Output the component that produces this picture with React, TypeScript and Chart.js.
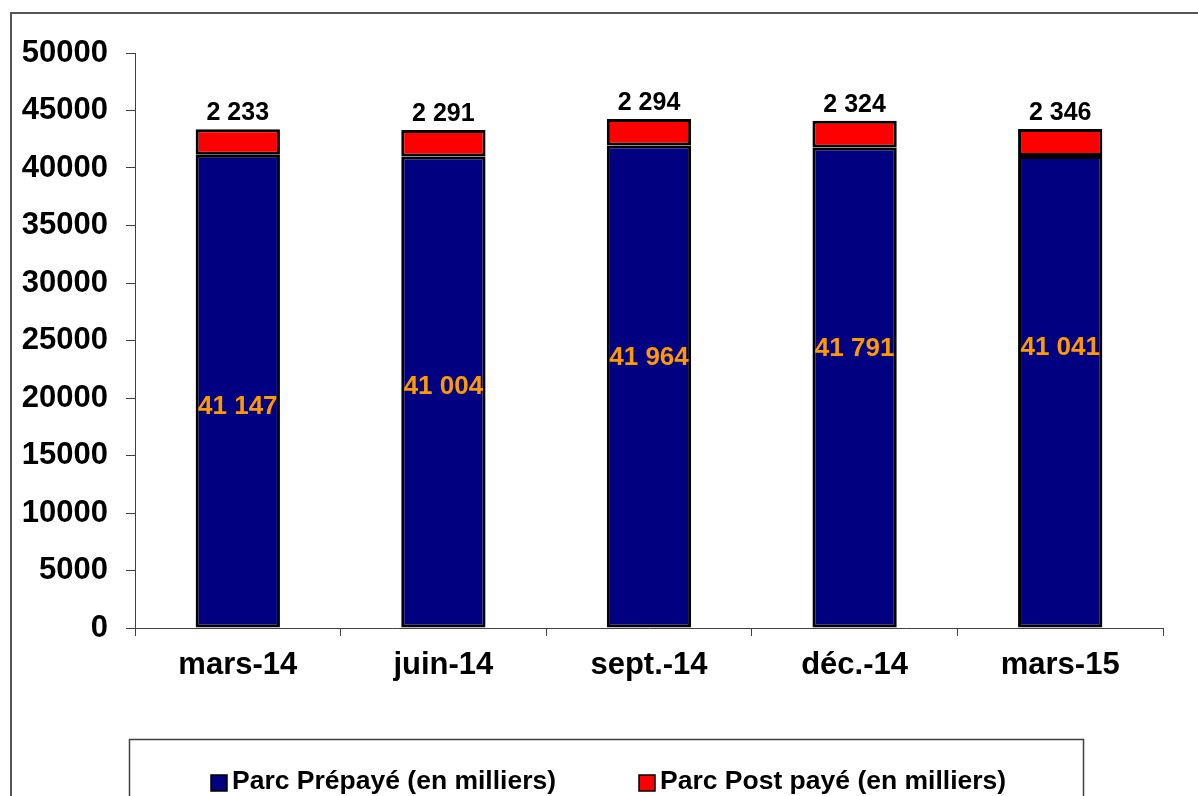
import React, { useEffect, useRef } from "react";
import { Chart, registerables } from "chart.js";

Chart.register(...registerables);

const categories = ["mars-14", "juin-14", "sept.-14", "déc.-14", "mars-15"];
const prepaidValues = [41147, 41004, 41964, 41791, 41041];
const postpaidValues = [2233, 2291, 2294, 2324, 2346];
// level (in axis units) at which the orange prepaid labels sit in the original
const prepaidLabelLevels = [19260, 20960, 23480, 24260, 24350];
const seriesNames = ["Parc Prépayé (en milliers)", "Parc Post payé (en milliers)"];
const yMin = 0;
const yMax = 50000;
const yStep = 5000;

const FONT = "'Liberation Sans', Arial, sans-serif";
const BLUE = "#000080";
const RED = "#FF0000";
const ORANGE = "#FF9900";

const fmt = (v: number) => String(v).replace(/\B(?=(\d{3})+(?!\d))/g, " ");

const decorPlugin = {
  id: "decor",
  beforeDraw(chart: any) {
    const ctx = chart.ctx;
    ctx.save();
    ctx.strokeStyle = "#555555";
    ctx.lineWidth = 2;
    ctx.beginPath();
    ctx.moveTo(11, 820);
    ctx.lineTo(11, 13);
    ctx.lineTo(1220, 13);
    ctx.stroke();
    ctx.restore();
  },
  afterDraw(chart: any) {
    const ctx = chart.ctx;
    const y = chart.scales.y;
    const m0 = chart.getDatasetMeta(0);
    const m1 = chart.getDatasetMeta(1);
    ctx.save();
    ctx.textAlign = "center";
    // prepaid labels
    ctx.font = `bold 26px ${FONT}`;
    ctx.fillStyle = ORANGE;
    ctx.textBaseline = "middle";
    m0.data.forEach((bar: any, i: number) => {
      ctx.fillText(fmt(prepaidValues[i]), bar.x, y.getPixelForValue(prepaidLabelLevels[i]));
    });
    // postpaid labels
    ctx.font = `bold 25px ${FONT}`;
    ctx.fillStyle = "#000";
    ctx.textBaseline = "alphabetic";
    m1.data.forEach((bar: any, i: number) => {
      ctx.fillText(fmt(postpaidValues[i]), bar.x, bar.y - 9);
    });
    // legend
    ctx.strokeStyle = "#404040";
    ctx.lineWidth = 1.5;
    ctx.strokeRect(129.5, 739.5, 954, 120);
    const items = [
      { x: 211, color: BLUE, text: seriesNames[0] },
      { x: 639, color: RED, text: seriesNames[1] },
    ];
    ctx.font = `bold 26.5px ${FONT}`;
    ctx.textAlign = "left";
    ctx.textBaseline = "alphabetic";
    items.forEach((it) => {
      ctx.fillStyle = it.color;
      ctx.fillRect(it.x, 775, 16, 16);
      ctx.strokeStyle = "#000";
      ctx.lineWidth = 1.5;
      ctx.strokeRect(it.x, 775, 16, 16);
      ctx.fillStyle = "#000";
      ctx.fillText(it.text, it.x + 21, 789);
    });
    ctx.restore();
  },
};

export default function App() {
  const ref = useRef<HTMLCanvasElement | null>(null);
  useEffect(() => {
    document.body.style.margin = "0";
    const canvas = ref.current!;
    const tickFont = { family: FONT, size: 31, weight: "bold" as const };
    const chart = new Chart(canvas, {
      type: "bar",
      data: {
        labels: categories,
        datasets: [
          {
            label: seriesNames[0],
            data: prepaidValues,
            backgroundColor: BLUE,
            borderColor: "#000",
            borderWidth: 3,
            borderSkipped: false,
            barPercentage: 0.41,
            categoryPercentage: 1,
          },
          {
            label: seriesNames[1],
            data: postpaidValues,
            backgroundColor: RED,
            borderColor: "#000",
            borderWidth: 3,
            borderSkipped: false,
            barPercentage: 0.41,
            categoryPercentage: 1,
          },
        ],
      },
      options: {
        responsive: false,
        animation: false,
        layout: { padding: { left: 0, top: 53, right: 35, bottom: 108 } },
        plugins: { legend: { display: false }, tooltip: { enabled: false } },
        scales: {
          x: {
            stacked: true,
            grid: {
              display: true,
              drawOnChartArea: false,
              drawTicks: true,
              tickLength: 8,
              color: "#404040",
              offset: true,
            },
            border: { display: true, color: "#404040", width: 1 },
            ticks: { font: tickFont, color: "#000", padding: 11, maxRotation: 0 },
            afterFit: (s: any) => {
              s.height = 60;
            },
          },
          y: {
            stacked: true,
            min: yMin,
            max: yMax,
            grid: {
              display: true,
              drawOnChartArea: false,
              drawTicks: true,
              tickLength: 9,
              color: "#404040",
            },
            border: { display: true, color: "#404040", width: 1 },
            ticks: {
              stepSize: yStep,
              font: tickFont,
              color: "#000",
              padding: 18,
              callback: (v: any) => String(v),
            },
            afterFit: (s: any) => {
              s.width = 135;
            },
          },
        },
      },
      plugins: [decorPlugin],
    });
    return () => chart.destroy();
  }, []);
  return (
    <div style={{ width: 1198, height: 796, background: "#fff" }}>
      <canvas ref={ref} width={1198} height={796} style={{ display: "block" }} />
    </div>
  );
}
